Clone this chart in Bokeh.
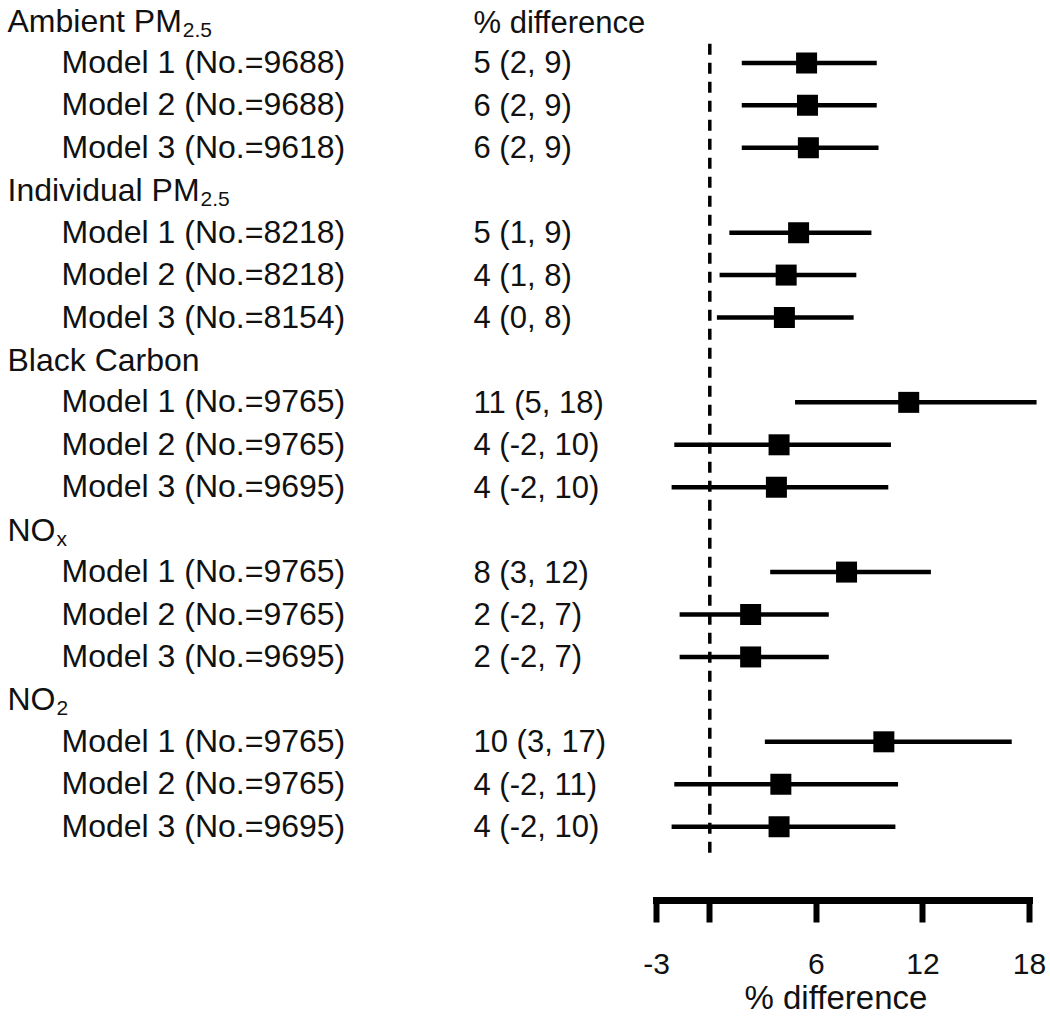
from bokeh.plotting import figure
from bokeh.models import Range1d, LinearAxis, FixedTicker, ColumnDataSource, Title
from bokeh.core.properties import value
from bokeh.embed import file_html
from bokeh.resources import INLINE

# ---------------- data ----------------
group_names = ["Ambient PM", "Individual PM", "Black Carbon", "NO", "NO"]
group_subscripts = ["2.5", "2.5", "", "x", "2"]
model_names = ["Model 1", "Model 2", "Model 3"]
sample_sizes = [9688, 9688, 9618,
                8218, 8218, 8154,
                9765, 9765, 9695,
                9765, 9765, 9695,
                9765, 9765, 9695]
estimates = [5.45, 5.5, 5.55,
             5.0, 4.3, 4.2,
             11.2, 3.9, 3.75,
             7.7, 2.3, 2.3,
             9.8, 4.0, 3.9]
lower = [1.8, 1.8, 1.8,
         1.1, 0.55, 0.4,
         4.8, -2.0, -2.15,
         3.4, -1.7, -1.7,
         3.1, -2.0, -2.15]
upper = [9.4, 9.4, 9.5,
         9.1, 8.25, 8.1,
         18.4, 10.2, 10.05,
         12.45, 6.7, 6.7,
         17.0, 10.6, 10.45]
effect_labels = ["5 (2, 9)", "6 (2, 9)", "6 (2, 9)",
                 "5 (1, 9)", "4 (1, 8)", "4 (0, 8)",
                 "11 (5, 18)", "4 (-2, 10)", "4 (-2, 10)",
                 "8 (3, 12)", "2 (-2, 7)", "2 (-2, 7)",
                 "10 (3, 17)", "4 (-2, 11)", "4 (-2, 10)"]
column_header = "% difference"
axis_title = "% difference"
axis_ticks = [-3, 0, 6, 12, 18]
axis_tick_labels = {-3: "-3", 0: "", 6: "6", 12: "12", 18: "18"}

# ---------------- layout constants ----------------
FONT = "Liberation Sans"
W, H = 1050, 1024
PX_PER_UNIT = 17.76
ZERO_PX = 709.3          # x of 0 relative to figure left
ROW_PX = 42.43
ROW0_PX = 20.0           # row 0 centre relative to figure top
FRAME_H = 900

x_start = -ZERO_PX / PX_PER_UNIT
x_end = (W - ZERO_PX) / PX_PER_UNIT
y_top = -ROW0_PX / ROW_PX
y_bottom = (FRAME_H - ROW0_PX) / ROW_PX

# Liberation Sans advance widths (per 1000 em) for subscript placement
ADV = {"A": 667, "m": 833, "b": 556, "i": 222, "e": 556, "n": 556, "t": 278,
       " ": 278, "P": 667, "M": 833, "I": 278, "d": 556, "v": 500, "u": 556,
       "a": 556, "l": 222, "N": 722, "O": 778, "B": 667, "c": 500, "k": 500,
       "C": 722, "r": 333, "o": 556}


def text_width(s, size):
    return sum(ADV.get(ch, 556) for ch in s) * size / 1000.0


HEAD_X, MODEL_X, EFFECT_X = 7, 61, 473

# ---------------- rows ----------------
header_rows, header_text, sub_text, sub_offsets = [], [], [], []
model_rows, model_text = [], []
k = 0
for g, name in enumerate(group_names):
    base = 4 * g
    header_rows.append(base)
    header_text.append(name)
    sub_text.append(group_subscripts[g])
    sub_offsets.append(HEAD_X + text_width(name, 32) + 1)
    for m, mname in enumerate(model_names):
        model_rows.append(base + m + 1)
        model_text.append(f"{mname} (No.={sample_sizes[k]})")
        k += 1

n_rows = 4 * len(group_names)

p = figure(width=W, height=H, output_backend="svg", toolbar_location=None,
           x_range=Range1d(x_start, x_end), y_range=Range1d(y_bottom, y_top),
           x_axis_type=None, y_axis_type=None,
           min_border_left=0, min_border_right=0, min_border_top=0,
           min_border_bottom=H - FRAME_H)
p.outline_line_color = None
p.xgrid.visible = False
p.ygrid.visible = False
p.background_fill_color = "white"
p.border_fill_color = "white"

# reference line at 0
p.segment(x0=[0], y0=[0.55], x1=[0], y1=[n_rows - 0.22],
          line_color="black", line_width=3.5, line_dash="11 8")

src = ColumnDataSource(dict(y=model_rows, est=estimates, lo=lower, hi=upper,
                            label=model_text, eff=effect_labels,
                            xl=[x_start] * len(model_rows)))
p.segment(x0="lo", y0="y", x1="hi", y1="y", source=src,
          line_color="black", line_width=4.5)
p.scatter(x="est", y="y", source=src, marker="square", size=21,
          fill_color="black", line_color="black", line_width=0)

# left labels
p.text(x="xl", y="y", text="label", source=src, x_offset=MODEL_X, y_offset=-1,
       text_font=value(FONT), text_font_size="32px", text_color="#111111",
       text_baseline="middle", text_align="left")
p.text(x="xl", y="y", text="eff", source=src, x_offset=EFFECT_X, y_offset=0,
       text_font=value(FONT), text_font_size="31px", text_color="#111111",
       text_baseline="middle", text_align="left")

hsrc = ColumnDataSource(dict(y=header_rows, t=header_text, s=sub_text,
                             so=sub_offsets, xl=[x_start] * len(header_rows)))
p.text(x="xl", y="y", text="t", source=hsrc, x_offset=HEAD_X, y_offset=0,
       text_font=value(FONT), text_font_size="32px", text_color="#111111",
       text_baseline="alphabetic", text_align="left")
p.text(x="xl", y="y", text="s", source=hsrc, x_offset="so", y_offset=9,
       text_font=value(FONT), text_font_size="21px", text_color="#111111",
       text_baseline="alphabetic", text_align="left")
p.text(x=[x_start], y=[0], text=[column_header], x_offset=EFFECT_X, y_offset=2,
       text_font=value(FONT), text_font_size="31px", text_color="#111111",
       text_baseline="middle", text_align="left")

# bottom axis
ax = LinearAxis(ticker=FixedTicker(ticks=axis_ticks), bounds=(-3, 18),
                major_label_overrides=axis_tick_labels)
ax.axis_line_width = 7
ax.axis_line_cap = "square"
ax.axis_line_color = "black"
ax.major_tick_line_width = 6
ax.major_tick_line_color = "black"
ax.major_tick_out = 22
ax.major_tick_in = 0
ax.minor_tick_line_color = None
ax.major_label_standoff = 31
ax.major_label_text_font = FONT
ax.major_label_text_font_size = "30px"
ax.major_label_text_color = "#111111"
p.add_layout(ax, "below")

# axis title, centred under the axis span
t = Title(text=axis_title, align="left", offset=744, standoff=0,
          text_font=FONT, text_font_size="33px", text_font_style="normal",
          text_color="#111111")
p.add_layout(t, "below")

open("out.html", "w").write(file_html(p, INLINE))
